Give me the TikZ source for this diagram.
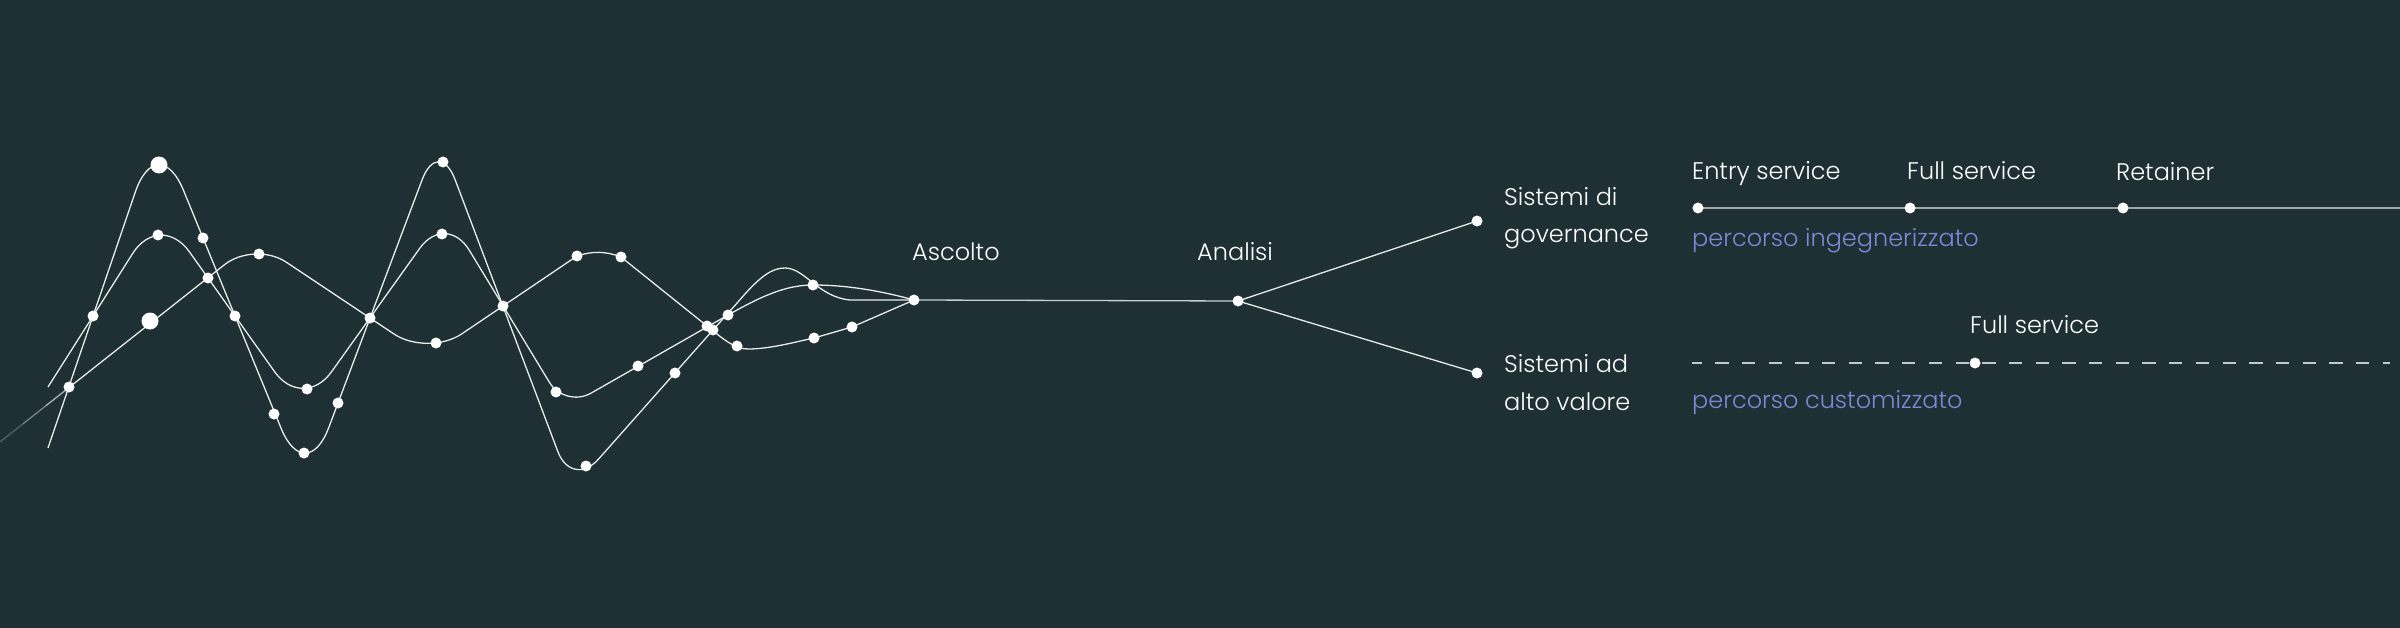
\documentclass[tikz,border=0pt]{standalone}
\usepackage{fontspec}
\setmainfont{Poppins}[UprightFont=* Light]
\usetikzlibrary{calc}
\definecolor{bg}{RGB}{31,48,53}
\definecolor{ln}{RGB}{232,234,234}
\definecolor{accent}{RGB}{128,134,214}
\definecolor{trackgray}{RGB}{160,166,167}
\definecolor{dashgray}{RGB}{196,200,200}
\begin{document}
\begin{tikzpicture}[x=1pt,y=-1pt,
  wave/.style={draw=ln, line width=1.3pt},
  dot/.style={circle, fill=white, inner sep=0pt, minimum size=11pt},
  bigdot/.style={circle, fill=white, inner sep=0pt, minimum size=17pt},
  lbl/.style={anchor=base west, inner sep=0pt, text=white, font=\fontsize{24}{28}\selectfont},
  sub/.style={lbl, text=accent},
  track/.style={draw=trackgray, line width=2pt},
  dashtrack/.style={draw=dashgray, line width=1.5pt, dash pattern=on 13.3pt off 13.4pt, dash phase=3.5pt}]
\fill[bg] (0,0) rectangle (2400,628);
\useasboundingbox (0,0) rectangle (2400,628);
% key coordinates
\coordinate (asc) at (914,300);
\coordinate (ana) at (1238,301);
\coordinate (gov) at (1477,221);
\coordinate (alt) at (1477,373);
% tall wave apexes
\coordinate (t0) at (48,448);
\coordinate (t1) at (157.5,127);
\coordinate (t2) at (305.8,488.5);
\coordinate (t3) at (438.6,136);
\coordinate (t4) at (572,489);
\coordinate (t5) at (713,330);
% middle wave apexes
\coordinate (a0) at (48,387);
\coordinate (a1) at (160,210.4);
\coordinate (a2) at (303,411.7);
\coordinate (a3) at (445.9,211.7);
\coordinate (a4) at (565,408);
\coordinate (a5) at (728,315);
% gentle wave apexes
\coordinate (b0) at (0,442);
\coordinate (b1) at (254.5,241);
\coordinate (b2) at (428,356.7);
\coordinate (b3) at (577,256);
\coordinate (b4) at (621,257);
% tall wave
\draw[wave] (t0) -- ($(t0)!.5!(t1)$);
\draw[wave, rounded corners=69pt] ($(t0)!.5!(t1)$) -- (t1) -- ($(t1)!.5!(t2)$);
\draw[wave, rounded corners=65pt] ($(t1)!.5!(t2)$) -- (t2) -- ($(t2)!.5!(t3)$);
\draw[wave, rounded corners=47pt] ($(t2)!.5!(t3)$) -- (t3) -- ($(t3)!.5!(t4)$);
\draw[wave, rounded corners=40pt] ($(t3)!.5!(t4)$) -- (t4) -- ($(t4)!.5!(t5)$);
\draw[wave] ($(t4)!.5!(t5)$) -- (t5) -- (738,302) .. controls (760,276) and (772,268) .. (785,268)
  .. controls (805,268) and (818,297) .. (850,300) -- (asc);
% middle wave
\draw[wave] (a0) -- ($(a0)!.5!(a1)$);
\draw[wave, rounded corners=51pt] ($(a0)!.5!(a1)$) -- (a1) -- ($(a1)!.5!(a2)$);
\draw[wave, rounded corners=49pt] ($(a1)!.5!(a2)$) -- (a2) -- ($(a2)!.5!(a3)$);
\draw[wave, rounded corners=45pt] ($(a2)!.5!(a3)$) -- (a3) -- ($(a3)!.5!(a4)$);
\draw[wave, rounded corners=30pt] ($(a3)!.5!(a4)$) -- (a4) -- ($(a4)!.5!(a5)$);
\draw[wave] ($(a4)!.5!(a5)$) -- (a5) .. controls (760,297) and (785,285) .. (813,285)
  .. controls (850,285) and (885,292) .. (asc);
% gentle wave
\draw[wave, draw=ln!25!bg] (b0) -- ($(b0)!.09!(b1)$);
\draw[wave, draw=ln!45!bg] ($(b0)!.09!(b1)$) -- ($(b0)!.18!(b1)$);
\draw[wave, draw=ln!70!bg] ($(b0)!.18!(b1)$) -- ($(b0)!.271!(b1)$);
\draw[wave] ($(b0)!.271!(b1)$) -- ($(b0)!.5!(b1)$);
\draw[wave, rounded corners=38pt] ($(b0)!.5!(b1)$) -- (b1) -- ($(b1)!.5!(b2)$);
\draw[wave, rounded corners=41pt] ($(b1)!.5!(b2)$) -- (b2) -- ($(b2)!.5!(b3)$);
\draw[wave] ($(b2)!.5!(b3)$) -- (b3) .. controls (592,251) and (606,251) .. (b4) -- (707,326)
  .. controls (725,340.5) and (735,349) .. (748,349) .. controls (770,349) and (795,342) .. (814,338)
  -- (852,327) -- (asc);
% right part
\draw[wave, draw=ln!85!bg] (asc) -- (ana);
\draw[wave] (ana) -- (gov);
\draw[wave] (ana) -- (alt);
\coordinate (e1) at (1698,208);
\coordinate (e2) at (1910,208);
\coordinate (e3) at (2123,208);
\coordinate (eend) at (2400,208);
\draw[track] (e1) -- (eend);
\coordinate (d0) at (1692,363);
\coordinate (d1) at (1975,363);
\coordinate (dend) at (2390,363);
\draw[dashtrack] (d0) -- (dend);
% dots
\foreach \p [count=\i] in {(69,387),(93,316),(158,235),(203,238),(208,278),(259,254),(235,316),
  (307,389),(274,414),(304,453),(338,403),(370,318),(436,343),(443,162),(442,234),
  (503,306),(577,256),(621,257),(556,392),(586,466),(638,366),(675,373),(707,326),(713,330),
  (728,315),(737,346),(813,285),(814,338),(852,327)}
  \node[dot] (w\i) at \p {};
\node[bigdot] (big1) at (159,165) {};
\node[bigdot] (big2) at (150,321) {};
\node[dot] (ascdot) at (asc) {};
\node[dot] (anadot) at (ana) {};
\node[dot] (govdot) at (gov) {};
\node[dot] (altdot) at (alt) {};
\node[dot] (e1dot) at (e1) {};
\node[dot] (e2dot) at (e2) {};
\node[dot] (e3dot) at (e3) {};
\node[dot] (d1dot) at (d1) {};
% labels
\node[lbl] (lasc) at (912,261) {Ascolto};
\node[lbl] (lana) at (1197,261) {Analisi};
\node[lbl] (lgov1) at (1504,206) {Sistemi di};
\node[lbl] (lgov2) at (1504,243) {governance};
\node[lbl] (lalt1) at (1504,372) {Sistemi ad};
\node[lbl] (lalt2) at (1504,410) {alto valore};
\node[lbl] (lentry) at (1692,180) {Entry service};
\node[lbl] (lfull) at (1907,180) {Full service};
\node[lbl] (lret) at (2116,181) {Retainer};
\node[sub] (ling) at (1692,247) {percorso ingegnerizzato};
\node[lbl] (lfull2) at (1970,333) {Full service};
\node[sub] (lcust) at (1692,408) {percorso customizzato};
\end{tikzpicture}
\end{document}
